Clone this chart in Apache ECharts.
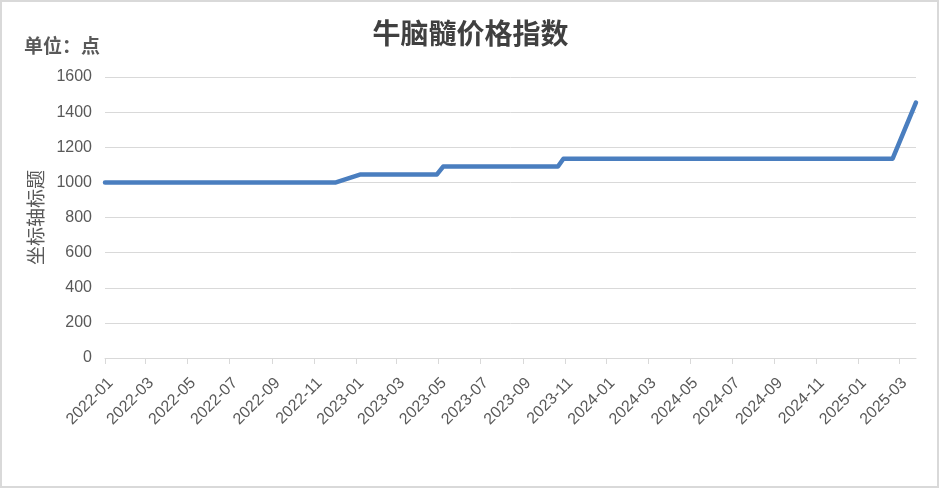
<!DOCTYPE html>
<html>
<head>
<meta charset="utf-8">
<script src="https://cdn.jsdelivr.net/npm/echarts@6/dist/echarts.min.js"></script>
<style>
html,body{margin:0;padding:0;background:#fff;}
#main{width:941px;height:489px;}
</style>
</head>
<body>
<div id="main"></div>
<script>
// Data
var titleText = '牛脑髓价格指数';
var unitText = '单位：点';
var yAxisName = '坐标轴标题';
var dates = ['2022-01-01','2022-12-03','2023-01-08','2023-04-29','2023-05-08','2023-10-22','2023-10-30','2025-02-20','2025-03-26'];
var values = [1000, 1000, 1045, 1045, 1090, 1090, 1135, 1135, 1455];
var tickLabels = ['2022-01','2022-03','2022-05','2022-07','2022-09','2022-11',
  '2023-01','2023-03','2023-05','2023-07','2023-09','2023-11',
  '2024-01','2024-03','2024-05','2024-07','2024-09','2024-11',
  '2025-01','2025-03'];
var yTicks = [0, 200, 400, 600, 800, 1000, 1200, 1400, 1600];

// convert a date string to a day number (days since 1970-01-01, UTC)
function toDay(s) {
  var p = s.split('-');
  return Date.UTC(+p[0], +p[1] - 1, p[2] ? +p[2] : 1) / 86400000;
}
var tickValues = tickLabels.map(toDay);
var labelByDay = {};
tickLabels.forEach(function (t, i) { labelByDay[tickValues[i]] = t; });
var seriesData = dates.map(function (d, i) { return [toDay(d), values[i]]; });

var chart = echarts.init(document.getElementById('main'), null, {renderer: 'canvas'});
var CJK = '"Noto Sans CJK SC", "Noto Sans", sans-serif';
var NUM = '"Liberation Sans", "DejaVu Sans", sans-serif';
chart.setOption({
  backgroundColor: '#fff',
  animation: false,
  title: [{
    text: titleText,
    left: 'center',
    top: 14,
    textStyle: {fontFamily: CJK, fontSize: 28, fontWeight: 'bold', color: '#404040'}
  }, {
    text: unitText,
    left: 19,
    top: 31,
    textStyle: {fontFamily: CJK, fontSize: 19, fontWeight: 'bold', color: '#595959'}
  }],
  grid: {left: 105, right: 25, top: 77, bottom: 131, containLabel: false},
  xAxis: {
    type: 'value',
    min: toDay(dates[0]),
    max: toDay(dates[dates.length - 1]),
    axisLine: {show: true, lineStyle: {color: '#d9d9d9', width: 1}},
    axisTick: {show: true, length: 6, customValues: tickValues, lineStyle: {color: '#d9d9d9'}},
    axisLabel: {
      customValues: tickValues,
      rotate: 45,
      margin: 17,
      verticalAlign: 'top',
      fontFamily: NUM,
      fontSize: 16,
      color: '#595959',
      formatter: function (v) { return labelByDay[v] || ''; }
    },
    splitLine: {show: false}
  },
  yAxis: {
    type: 'value',
    min: yTicks[0],
    max: yTicks[yTicks.length - 1],
    interval: 200,
    name: yAxisName,
    nameLocation: 'middle',
    nameRotate: 90,
    nameGap: 56,
    nameTextStyle: {fontFamily: CJK, fontSize: 19, color: '#595959'},
    axisLine: {show: false},
    axisTick: {show: false},
    axisLabel: {
      fontFamily: NUM, fontSize: 16, color: '#595959', margin: 13,
      formatter: function (v) { return String(v); }
    },
    splitLine: {lineStyle: {color: '#d9d9d9', width: 1}}
  },
  series: [{
    type: 'line',
    data: seriesData,
    showSymbol: false,
    symbol: 'none',
    lineStyle: {color: '#4A7EBF', width: 4.5, cap: 'round', join: 'round'},
    itemStyle: {color: '#4A7EBF'}
  }],
  graphic: [{
    type: 'rect',
    shape: {x: 1, y: 1, width: 937, height: 486},
    style: {fill: 'none', stroke: '#d9d9d9', lineWidth: 2},
    silent: true
  }]
});
</script>
</body>
</html>
